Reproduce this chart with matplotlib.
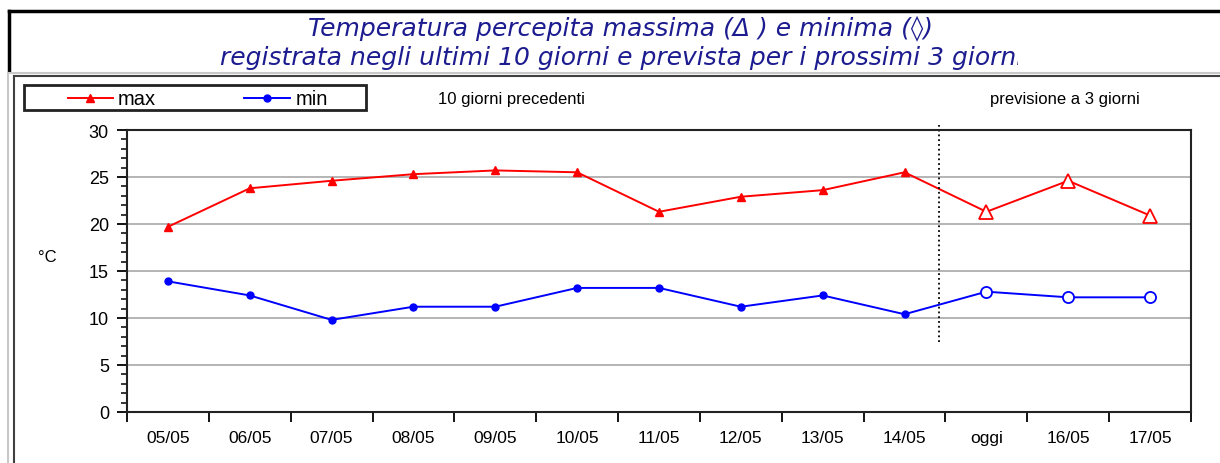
import matplotlib
matplotlib.use('Agg')
import matplotlib.pyplot as plt
from matplotlib.lines import Line2D
from matplotlib.patches import Rectangle
from matplotlib.transforms import Bbox
from matplotlib.ticker import MultipleLocator, FixedLocator

# Dates shown on the x axis (last 10 days + today + 2 forecast days)
days = ['05/05', '06/05', '07/05', '08/05', '09/05', '10/05', '11/05',
        '12/05', '13/05', '14/05', 'oggi', '16/05', '17/05']
# perceived temperatures
t_max = [19.7, 23.8, 24.6, 25.3, 25.7, 25.5, 21.3, 22.9, 23.6, 25.5, 21.3, 24.6, 20.9]
t_min = [13.9, 12.4, 9.8, 11.2, 11.2, 13.2, 13.2, 11.2, 12.4, 10.4, 12.8, 12.2, 12.2]
n_past = 10  # first 10 values are recorded, the rest are forecast

W, H = 1220, 464
fig = plt.figure(figsize=(W / 100, H / 100), dpi=100)
plt.rcParams['font.family'] = ['Liberation Sans', 'DejaVu Sans']

def px(x, y):
    # pixel coords (from top-left) -> figure fraction
    return x / W, 1 - y / H

# frame around the title
fig.add_artist(Line2D([9 / W, 1], [1 - 12 / H] * 2, color='black', lw=2.5))
fig.add_artist(Line2D([9 / W] * 2, [1 - 12 / H, 1 - 72 / H], color='black', lw=2.5))
# sunken panel border around the chart
fig.add_artist(Line2D([8 / W, 1], [1 - 74 / H] * 2, color='#c8c8c8', lw=1.5))
fig.add_artist(Line2D([8 / W] * 2, [0, 1 - 74 / H], color='#c8c8c8', lw=1.5))
fig.add_artist(Line2D([14 / W, 1], [1 - 77 / H] * 2, color='#404040', lw=1.5))
fig.add_artist(Line2D([14 / W] * 2, [0, 1 - 77 / H], color='#404040', lw=1.5))

title_kw = dict(ha='center', va='center', color='#1c1c90', style='italic',
                fontsize=18, family='DejaVu Sans')
fig.text(*px(620, 29), 'Temperatura percepita massima (\u0394 ) e minima (\u25ca)', **title_kw)
t2 = fig.text(*px(622, 58), 'registrata negli ultimi 10 giorni e prevista per i prossimi 3 giorni',
              **title_kw)
# the original title is cut off at the right edge of its box
t2.set_clip_box(Bbox.from_extents(0, 0, 1018, H))
t2.set_clip_on(True)

ax = fig.add_axes([127 / W, 1 - 413 / H, (1191 - 127) / W, (413 - 131) / H])
x = list(range(len(days)))

# recorded part: small filled markers
ax.plot(x[:n_past + 1], t_max[:n_past + 1], color='red', lw=1.4)
ax.plot(x[:n_past + 1], t_min[:n_past + 1], color='blue', lw=1.4)
ax.plot(x[n_past:], t_max[n_past:], color='red', lw=1.4)
ax.plot(x[n_past:], t_min[n_past:], color='blue', lw=1.4)
ax.plot(x[:n_past], t_max[:n_past], ls='none', marker='^', ms=6, color='red')
ax.plot(x[:n_past], t_min[:n_past], ls='none', marker='o', ms=5, color='blue')
# forecast part: bigger open markers
ax.plot(x[n_past:], t_max[n_past:], ls='none', marker='^', ms=10,
        mfc='white', mec='red', mew=1.3)
ax.plot(x[n_past:], t_min[n_past:], ls='none', marker='o', ms=8,
        mfc='white', mec='blue', mew=1.3)

# dotted separator between past and forecast
ax.plot([9.42, 9.42], [7.5, 30.5], color='black', ls=':', lw=1.3, clip_on=False)

ax.set_xlim(-0.5, len(days) - 0.5)
ax.set_ylim(0, 30)
ax.yaxis.set_major_locator(MultipleLocator(5))
ax.yaxis.set_minor_locator(MultipleLocator(1))
ax.xaxis.set_major_locator(FixedLocator([i - 0.5 for i in range(len(days) + 1)]))
ax.xaxis.set_minor_locator(FixedLocator(x))
ax.set_xticklabels([])
ax.set_xticklabels(days, minor=True)
ax.tick_params(axis='x', which='major', length=7, width=1.3, direction='out')
ax.tick_params(axis='x', which='minor', length=0, pad=13, labelsize=12.5)
ax.tick_params(axis='y', which='major', length=7, width=1.3, labelsize=13, pad=6)
ax.tick_params(axis='y', which='minor', length=4, width=1.1)
ax.grid(axis='y', which='major', color='#a8a8a8', lw=1.2)
ax.set_axisbelow(True)
for s in ax.spines.values():
    s.set_linewidth(1.5)
    s.set_color('#222222')

fig.text(*px(47, 258), '\u00b0C', ha='center', va='center', fontsize=12)
fig.text(*px(511, 100), '10 giorni precedenti', ha='center', va='center', fontsize=12)
fig.text(*px(1065, 100), 'previsione a 3 giorni', ha='center', va='center', fontsize=12)

# legend box
fig.add_artist(Rectangle(px(24, 111), (366 - 24) / W, 25 / H, fill=False,
                         ec='#222222', lw=2, transform=fig.transFigure))
fig.add_artist(Line2D([68 / W, 113 / W], [1 - 99 / H] * 2, color='red', lw=1.4))
fig.add_artist(Line2D([90 / W], [1 - 99 / H], marker='^', ms=6, color='red'))
fig.text(*px(118, 100), 'max', va='center', fontsize=14.5)
fig.add_artist(Line2D([244 / W, 290 / W], [1 - 99 / H] * 2, color='blue', lw=1.4))
fig.add_artist(Line2D([267 / W], [1 - 99 / H], marker='o', ms=5, color='blue'))
fig.text(*px(296, 100), 'min', va='center', fontsize=14.5)

fig.savefig('out.png', dpi=100)
